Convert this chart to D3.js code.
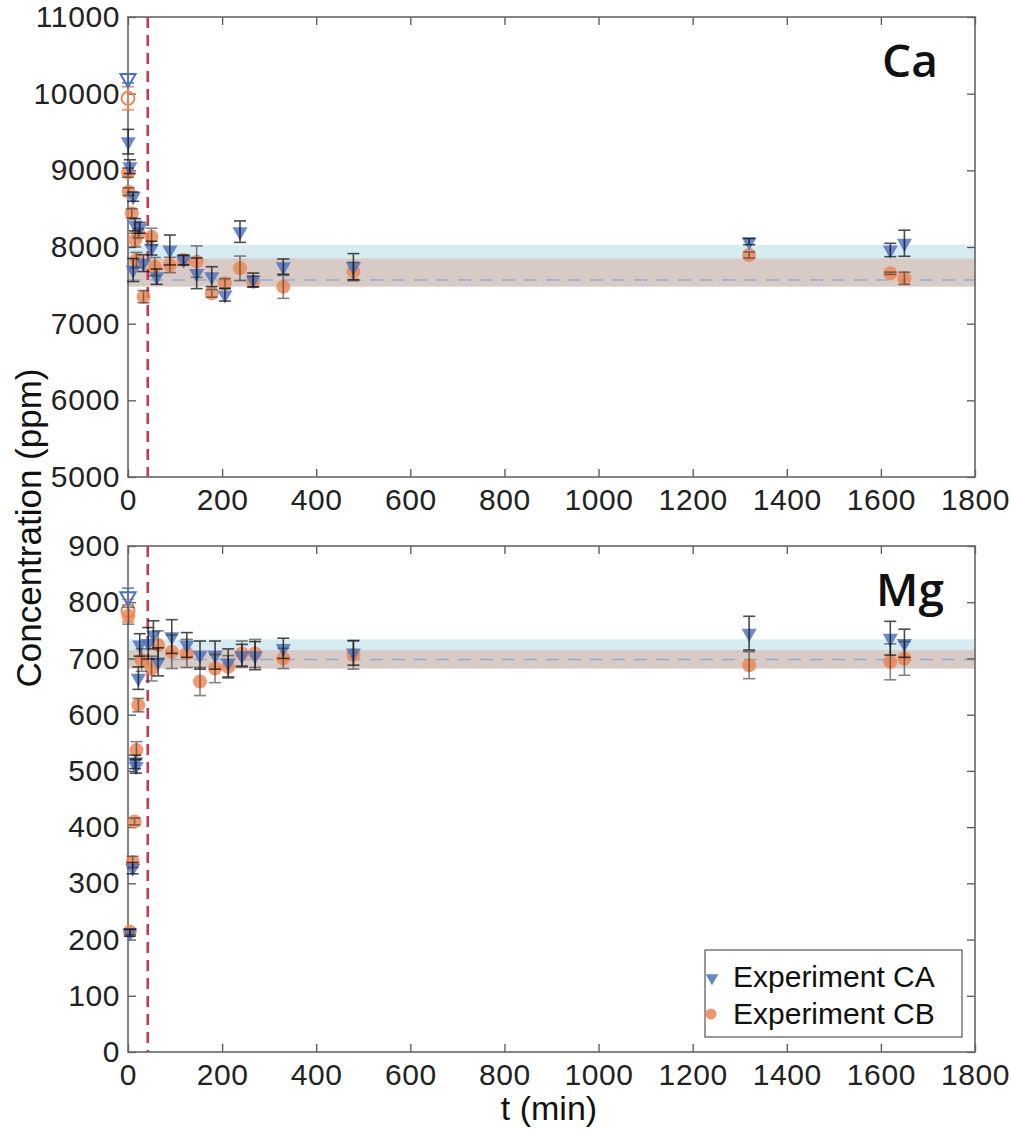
<!DOCTYPE html>
<html>
<head>
<meta charset="utf-8">
<script src="https://cdn.jsdelivr.net/npm/d3@7"></script>
<style>
  html, body { margin: 0; padding: 0; background: #fff; }
  svg { display: block; }
  .tick text { font-family: "Liberation Sans Narrow", "Liberation Sans", sans-serif; font-size: 30px; fill: #222; letter-spacing: 0.6px; }
  .tick line { stroke: #555; stroke-width: 1.3; }
</style>
</head>
<body>
<svg id="fig" width="1011" height="1132"></svg>
<script>
// ---- Time axis ----
const tDomain = [0, 1800];
const tTicks = [0, 200, 400, 600, 800, 1000, 1200, 1400, 1600, 1800];
const tStart = 42;              // red dashed marker (min)

// ---- Ca panel ----
const caDomain = [5000, 11000];
const caTicks = [5000, 6000, 7000, 8000, 9000, 10000, 11000];
// initial (hollow) samples
const caInitCA = [{t: 0, v: 10200, e: 60}];
const caInitCB = [{t: 0, v: 9940, e: 150}];
// Experiment CA (triangles)
const caT_CA = [0.5, 4, 11, 15, 25, 11, 33, 50, 61, 89, 118, 146, 178, 206, 238, 266, 330, 479, 1320, 1620, 1650];
const caV_CA = [9374, 9048, 8657, 8290, 8250, 7700, 7790, 7985, 7613, 7961, 7830, 7657, 7613, 7375, 8200, 7570, 7744, 7744, 8070, 7961, 8049];
const caE_CA = [160, 90, 60, 80, 70, 150, 110, 90, 100, 195, 65, 200, 130, 80, 140, 90, 100, 170, 40, 87, 170];
// Experiment CB (circles)
const caT_CB = [0, 1, 8, 15, 22, 18, 50, 33, 57, 89, 118, 146, 178, 206, 238, 266, 330, 479, 1320, 1620, 1650];
const caV_CB = [8970, 8722, 8440, 8090, 8180, 7830, 8135, 7352, 7744, 7766, 7830, 7809, 7396, 7527, 7722, 7548, 7480, 7680, 7896, 7657, 7592];
const caE_CB = [60, 50, 60, 90, 60, 100, 110, 80, 120, 100, 60, 205, 50, 60, 160, 70, 150, 120, 40, 15, 80];
// mean ± sd bands
const caBandCA = [7853, 8026];
const caBandCB = [7483, 7853];
const caMean = 7570;

// ---- Mg panel ----
const mgDomain = [0, 900];
const mgTicks = [0, 100, 200, 300, 400, 500, 600, 700, 800, 900];
const mgInitCA = [{t: 0, v: 810, e: 15}];
const mgInitCB = [{t: 0, v: 785, e: 20}];
const mgT_CA = [4, 10, 15, 17, 22, 25, 43, 54, 64, 93, 125, 153, 185, 213, 242, 270, 330, 479, 1320, 1620, 1650];
const mgV_CA = [212, 327, 516, 508, 665, 724, 727, 742, 694, 739, 724, 706, 706, 692, 705, 705, 718, 710, 745, 736, 727];
const mgE_CA = [6, 10, 12, 12, 20, 20, 28, 25, 25, 30, 22, 25, 25, 25, 20, 25, 18, 22, 30, 30, 25];
const mgT_CB = [1, 4, 10, 14, 18, 22, 29, 50, 64, 93, 125, 153, 185, 213, 242, 270, 330, 479, 1320, 1620, 1650];
const mgV_CB = [776, 214, 338, 410, 537, 617, 697, 682, 724, 712, 709, 659, 682, 685, 709, 709, 700, 706, 688, 694, 700];
const mgE_CB = [15, 5, 10, 6, 15, 12, 20, 22, 25, 30, 25, 25, 25, 20, 22, 25, 18, 25, 24, 32, 30];
const mgBandCA = [715, 734];
const mgBandCB = [682, 715];
const mgMean = 698;

// ---- Styling ----
const colCA = "#4a72c2";
const colCB = "#ee8452";
const bandBlue = "#d7ebf3";
const bandTan = "#d8cac4";

const svg = d3.select("#fig");
const left = 128, right = 975;
const x = d3.scaleLinear().domain(tDomain).range([left, right]);

function zip(ts, vs, es) { return ts.map((t, i) => ({t: t, v: vs[i], e: es[i]})); }

const tri = d3.symbol().type(d3.symbolTriangle).size(100);

function panel(cfg) {
  const y = d3.scaleLinear().domain(cfg.domain).range([cfg.bottom, cfg.top]);
  const g = svg.append("g");

  // clip bands and reference lines to the plotting frame
  const clipId = "clip" + cfg.name;
  svg.append("clipPath").attr("id", clipId)
    .append("rect").attr("x", left).attr("y", cfg.top)
    .attr("width", right - left).attr("height", cfg.bottom - cfg.top);
  const back = g.append("g").attr("clip-path", `url(#${clipId})`);

  // bands
  back.append("rect").attr("x", left).attr("width", right - left)
    .attr("y", y(cfg.bandCA[1])).attr("height", y(cfg.bandCA[0]) - y(cfg.bandCA[1]))
    .attr("fill", bandBlue);
  back.append("rect").attr("x", left).attr("width", right - left)
    .attr("y", y(cfg.bandCB[1])).attr("height", y(cfg.bandCB[0]) - y(cfg.bandCB[1]))
    .attr("fill", bandTan);
  back.append("line").attr("x1", left).attr("x2", right)
    .attr("y1", y(cfg.mean)).attr("y2", y(cfg.mean))
    .attr("stroke", "#8eaed6").attr("stroke-width", 1.6).attr("stroke-dasharray", "13,9");

  // red dashed start marker
  back.append("line").attr("x1", x(tStart)).attr("x2", x(tStart))
    .attr("y1", cfg.top).attr("y2", cfg.bottom)
    .attr("stroke", "#c23a55").attr("stroke-width", 2.6).attr("stroke-dasharray", "11,7");

  // axes with inward ticks, mirrored on the opposite sides
  const ax = g.append("g");
  ax.append("g").attr("transform", `translate(0,${cfg.bottom})`)
    .call(d3.axisBottom(x).tickValues(tTicks).tickSize(-8).tickPadding(12).tickFormat(d3.format("d")))
    .call(s => s.select(".domain").remove());
  ax.append("g").attr("transform", `translate(0,${cfg.top})`)
    .call(d3.axisTop(x).tickValues(tTicks).tickSize(-8).tickFormat(""))
    .call(s => s.select(".domain").remove());
  ax.append("g").attr("transform", `translate(${left},0)`)
    .call(d3.axisLeft(y).tickValues(cfg.ticks).tickSize(-8).tickPadding(8).tickFormat(d3.format("d")))
    .call(s => s.select(".domain").remove());
  ax.append("g").attr("transform", `translate(${right},0)`)
    .call(d3.axisRight(y).tickValues(cfg.ticks).tickSize(-8).tickFormat(""))
    .call(s => s.select(".domain").remove());
  ax.selectAll(".tick text").attr("fill", "#222");

  // frame
  g.append("rect").attr("x", left).attr("y", cfg.top)
    .attr("width", right - left).attr("height", cfg.bottom - cfg.top)
    .attr("fill", "none").attr("stroke", "#666").attr("stroke-width", 1.6);

  const inner = g.append("g");
  const dataCA = zip(cfg.tCA, cfg.vCA, cfg.eCA);
  const dataCB = zip(cfg.tCB, cfg.vCB, cfg.eCB);

  function errorBars(data, color, opac) {
    const eg = inner.append("g").attr("stroke", color).attr("stroke-width", 1.6).attr("opacity", opac);
    data.forEach(d => {
      const cx = x(d.t), y1 = y(d.v - d.e), y2 = y(d.v + d.e);
      eg.append("line").attr("x1", cx).attr("x2", cx).attr("y1", y1).attr("y2", y2);
      eg.append("line").attr("x1", cx - 6).attr("x2", cx + 6).attr("y1", y1).attr("y2", y1);
      eg.append("line").attr("x1", cx - 6).attr("x2", cx + 6).attr("y1", y2).attr("y2", y2);
    });
  }

  // initial hollow samples
  errorBars(cfg.initCB, colCB, 0.9);
  errorBars(cfg.initCA, colCA, 0.9);
  inner.append("g").selectAll("circle").data(cfg.initCB).join("circle")
    .attr("cx", d => x(d.t)).attr("cy", d => y(d.v)).attr("r", 6.5)
    .attr("fill", "none").attr("stroke", colCB).attr("stroke-width", 2);
  inner.append("g").selectAll("path").data(cfg.initCA).join("path")
    .attr("d", tri).attr("transform", d => `translate(${x(d.t)},${y(d.v)}) rotate(180)`)
    .attr("fill", "none").attr("stroke", colCA).attr("stroke-width", 2);

  // markers
  inner.append("g").selectAll("circle").data(dataCB).join("circle")
    .attr("cx", d => x(d.t)).attr("cy", d => y(d.v)).attr("r", 7)
    .attr("fill", colCB).attr("opacity", 0.82);
  inner.append("g").selectAll("path").data(dataCA).join("path")
    .attr("d", tri).attr("transform", d => `translate(${x(d.t)},${y(d.v)}) rotate(180)`)
    .attr("fill", colCA).attr("opacity", 0.82);

  errorBars(dataCB, "#333", 0.6);
  errorBars(dataCA, "#111", 0.75);

  // element label
  g.append("text").attr("x", cfg.labelX).attr("y", cfg.top + 60)
    .attr("font-family", "'Open Sans', sans-serif").attr("font-weight", 600)
    .attr("font-size", 46).attr("fill", "#111").text(cfg.name);

  return y;
}

panel({
  name: "Ca", domain: caDomain, ticks: caTicks, top: 17, bottom: 477, labelX: 882,
  tCA: caT_CA, vCA: caV_CA, eCA: caE_CA, tCB: caT_CB, vCB: caV_CB, eCB: caE_CB,
  initCA: caInitCA, initCB: caInitCB, bandCA: caBandCA, bandCB: caBandCB, mean: caMean
});
panel({
  name: "Mg", domain: mgDomain, ticks: mgTicks, top: 546, bottom: 1052, labelX: 876,
  tCA: mgT_CA, vCA: mgV_CA, eCA: mgE_CA, tCB: mgT_CB, vCB: mgV_CB, eCB: mgE_CB,
  initCA: mgInitCA, initCB: mgInitCB, bandCA: mgBandCA, bandCB: mgBandCB, mean: mgMean
});

// axis titles
svg.append("text").attr("transform", "translate(41,528) rotate(-90)")
  .attr("text-anchor", "middle").attr("font-family", "'Liberation Sans', Arial, sans-serif")
  .attr("font-size", 35).attr("fill", "#111").text("Concentration (ppm)");
svg.append("text").attr("x", 549).attr("y", 1120)
  .attr("text-anchor", "middle").attr("font-family", "'Liberation Sans Narrow', sans-serif")
  .attr("font-size", 34).attr("fill", "#111").text("t (min)");

// legend
const lg = svg.append("g");
lg.append("rect").attr("x", 705).attr("y", 950).attr("width", 257).attr("height", 87)
  .attr("fill", "#fff").attr("stroke", "#555").attr("stroke-width", 1.2);
lg.append("path").attr("d", d3.symbol().type(d3.symbolTriangle).size(70))
  .attr("transform", "translate(712,978) rotate(180)").attr("fill", colCA).attr("opacity", 0.85);
lg.append("circle").attr("cx", 711).attr("cy", 1014).attr("r", 5.5).attr("fill", colCB).attr("opacity", 0.85);
lg.append("text").attr("x", 733).attr("y", 987).attr("font-family", "'Liberation Sans', Arial, sans-serif")
  .attr("font-size", 30).attr("fill", "#111").text("Experiment CA");
lg.append("text").attr("x", 733).attr("y", 1024).attr("font-family", "'Liberation Sans', Arial, sans-serif")
  .attr("font-size", 30).attr("fill", "#111").text("Experiment CB");
</script>
</body>
</html>
